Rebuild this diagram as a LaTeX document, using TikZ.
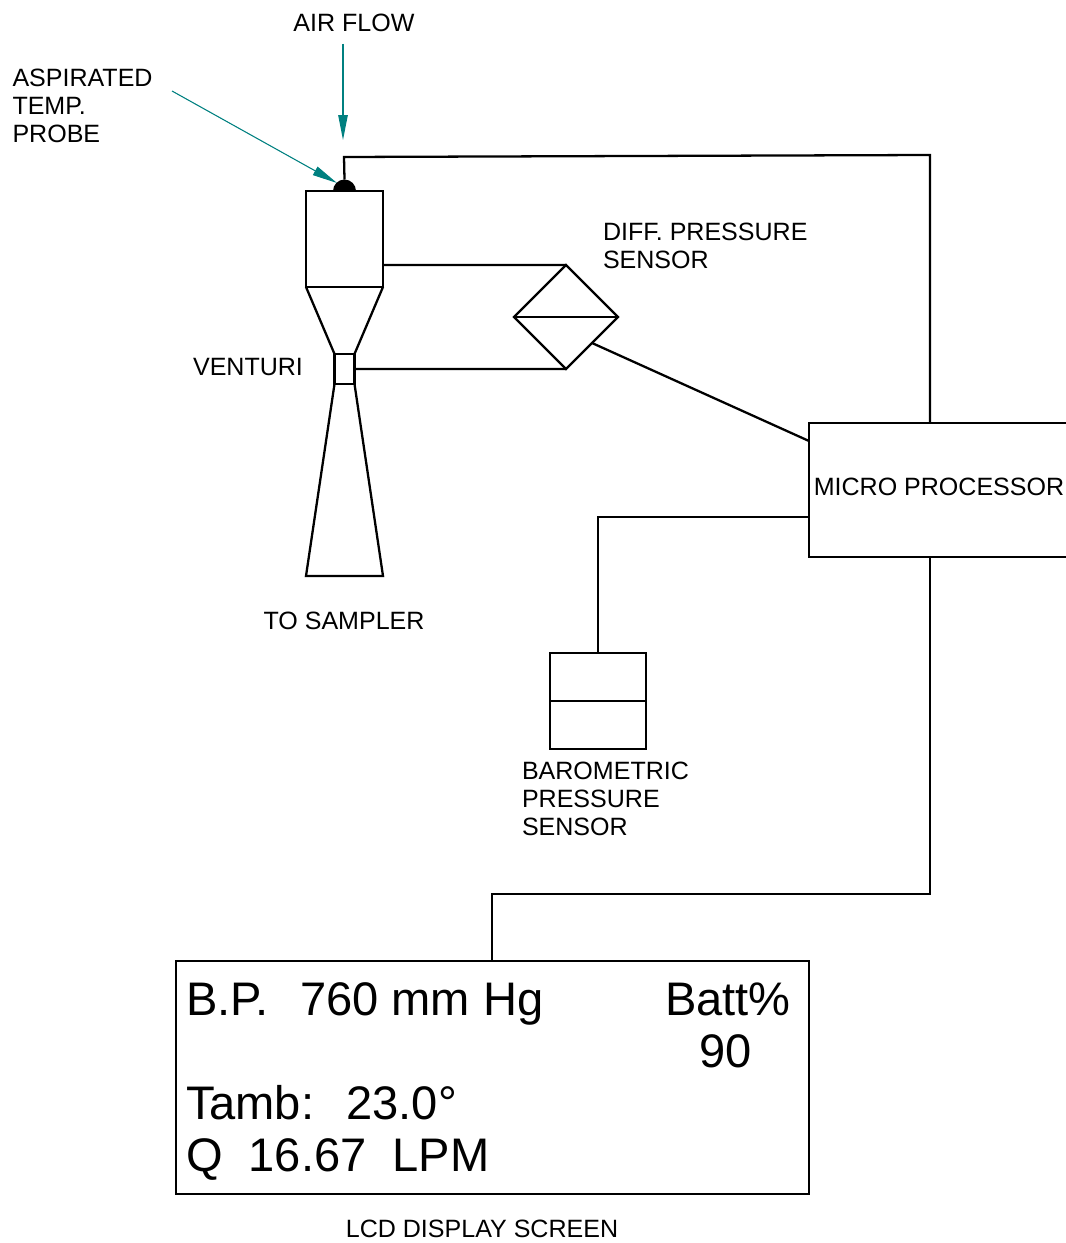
\documentclass[tikz,border=0pt]{standalone}
\usepackage{fontspec}
\setmainfont{Liberation Sans}
\usetikzlibrary{shapes.geometric, arrows.meta, positioning}
\definecolor{probeteal}{RGB}{0,128,128}

\begin{document}
\begin{tikzpicture}[
      x=0.02cm, y=-0.02cm,
      every node/.style={font=\fontsize{14.25}{16}\selectfont, inner sep=0pt, outer sep=0pt},
      tag/.style={align=left, anchor=west},
      box/.style={rectangle, draw=black, line width=1.3pt},
      readout/.style={anchor=base west, font=\fontsize{26.8}{30}\selectfont},
      wire/.style={draw=black, line width=1.3pt, line join=miter},
      arrow/.style={-{Triangle[length=0.5cm, width=0.19cm]}, draw=probeteal, fill=probeteal, line width=0.6pt}
    ]
    \useasboundingbox (0,0) rectangle (1065,1243);

    % Venturi
    \node[box, minimum width=1.54cm, minimum height=1.92cm] (chamber) at (344.5,239) {};
    \node[box, minimum width=0.4cm, minimum height=0.6cm, below=1.34cm of chamber] (throat) {};
    \coordinate[below=5.78cm of chamber.south west] (outleft);
    \coordinate[below=5.78cm of chamber.south east] (outright);
    \node[semicircle, fill=black, minimum width=0.46cm, anchor=south] (probe) at (chamber.north) {};

    % Sensors and boxes
    \node[diamond, draw=black, line width=1.3pt, minimum size=2.08cm] (diff) at (566,317) {};
    \node[box, minimum width=5.22cm, minimum height=2.68cm, anchor=north west] (micro) at (809,423) {};
    \node[box, minimum width=1.92cm, minimum height=1.92cm] (baro) at (598,701) {};
    \node[box, minimum width=12.66cm, minimum height=4.66cm, anchor=north west] (lcd) at (176,961) {};

    % Labels
    \node (airlabel) at (354,22.5) {AIR FLOW};
    \node[tag] (probelabel) at (12.5,105.5) {ASPIRATED\\TEMP.\\PROBE};
    \node[tag] (difflabel) at (603,245.5) {DIFF. PRESSURE\\SENSOR};
    \node (venturilabel) at (248,367) {VENTURI};
    \node (samplerlabel) at (344,620.5) {TO SAMPLER};
    \node (microlabel) at (939,487) {MICRO PROCESSOR};
    \node[tag] (barolabel) at (522,798.5) {BAROMETRIC\\PRESSURE\\SENSOR};
    \node (lcdlabel) at (482,1229) {LCD DISPLAY SCREEN};

    % Display text
    \node[readout] (bp) at (186,1015) {B.P.\ \ \hspace{0.1cm}760 mm Hg};
    \node[readout] (batt) at (665,1015) {Batt\%};
    \node[readout] (level) at (699,1067) {90};
    \node[readout] (tamb) at (186,1119) {Tamb:\ \ \hspace{0.12cm}23.0°};
    \node[readout] (flow) at (186,1171) {Q\ \ 16.67\ \ LPM};

    % Venturi walls
    \draw[wire] (chamber.south west) -- (throat.north west);
    \draw[wire] (chamber.south east) -- (throat.north east);
    \draw[wire] (throat.south west) -- (outleft) -- (outright) -- (throat.south east);

    % Inner lines
    \draw[wire] (diff.west) -- (diff.east);
    \draw[wire] (baro.west) -- (baro.east);

    % Wires
    \coordinate (tapin) at (930,423);
    \coordinate (tapout) at (930,557);
    \coordinate (lcdtap) at (492,961);
    \coordinate (portin) at (383,265);
    \coordinate (baroin) at (809,517);
    \draw[wire] (probe.north) -- (344,157) -- (930,155) -- (tapin);
    \draw[wire] (portin) -- (diff.north);
    \draw[wire] (throat.east) -- (diff.south);
    \draw[wire] (diff.south east) -- (micro.west |- 0,441);
    \draw[wire] (baro.north) |- (baroin);
    \draw[wire] (tapout) -- (930,894) -- (492,894) -- (lcdtap);

    % Arrows
    \coordinate (airstart) at (343,44);
    \coordinate (airend) at (343,140);
    \coordinate (probestart) at (172,91);
    \coordinate (probetip) at (337,183);
    \draw[arrow] (airstart) -- (airend);
    \draw[arrow] (probestart) -- (probetip);

\end{tikzpicture}
\end{document}
